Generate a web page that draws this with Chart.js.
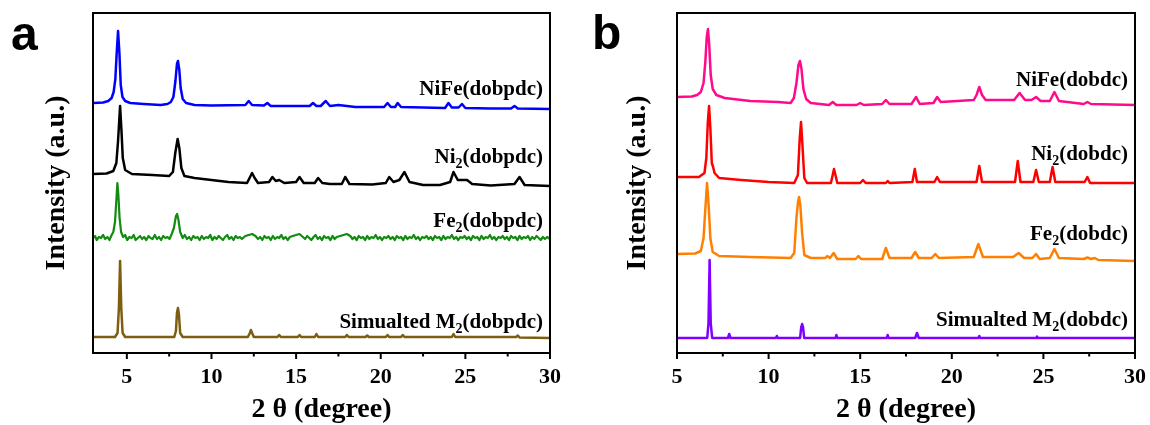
<!DOCTYPE html>
<html><head><meta charset="utf-8">
<script src="https://cdn.jsdelivr.net/npm/chart.js@4.4.1/dist/chart.umd.min.js"></script>
<style>
html,body{margin:0;padding:0;background:#fff;}
#wrap{position:relative;width:1150px;height:425px;overflow:hidden;background:#fff;}
canvas{position:absolute;top:0;}
.lbl{position:absolute;font-family:"Liberation Serif","Times New Roman",serif;font-weight:bold;font-size:21px;line-height:21px;white-space:nowrap;color:#000;}
.lbl sub{font-size:14px;line-height:0;vertical-align:-5px;}
.panel{position:absolute;font-family:"Liberation Sans",Arial,sans-serif;font-weight:bold;font-size:48px;line-height:48px;color:#000;}
</style></head>
<body><div id="wrap">
<canvas id="ca" width="575" height="425" style="left:0"></canvas>
<canvas id="cb" width="575" height="425" style="left:575px"></canvas>
<div class="panel" style="left:11px;top:10px">a</div>
<div class="panel" style="left:592px;top:9px">b</div>
<div class="lbl" style="right:607px;top:78px">NiFe(dobpdc)</div>
<div class="lbl" style="right:607px;top:146px">Ni<sub>2</sub>(dobpdc)</div>
<div class="lbl" style="right:607px;top:210px">Fe<sub>2</sub>(dobpdc)</div>
<div class="lbl" style="right:607px;top:311px">Simualted M<sub>2</sub>(dobpdc)</div>
<div class="lbl" style="right:22px;top:69px">NiFe(dobdc)</div>
<div class="lbl" style="right:22px;top:143px">Ni<sub>2</sub>(dobdc)</div>
<div class="lbl" style="right:22px;top:223px">Fe<sub>2</sub>(dobdc)</div>
<div class="lbl" style="right:22px;top:309px">Simualted M<sub>2</sub>(dobdc)</div>
</div>
<script>
// ---- Panel a: dobpdc series, [2θ, offset intensity] ----
const niFe_dobpdc = [[3.0,250],[3.6,250.5],[3.9,252],[4.1,255],[4.22,261],[4.32,274],[4.4,300],[4.48,322],[4.56,300],[4.64,268],[4.74,256],[4.9,252],[5.2,250],[6.0,249],[7.0,248],[7.4,249],[7.6,251],[7.75,256],[7.87,272],[7.96,289],[8.02,292],[8.1,283],[8.18,265],[8.3,254],[8.5,250],[9.0,248],[10.0,247.5],[12.0,248],[12.2,252],[12.4,248],[13.1,247.5],[13.3,250],[13.5,247],[14.5,247],[15.8,247],[16.0,250],[16.2,247],[16.45,247],[16.75,252],[17.0,247],[17.5,248],[18.5,246],[20.2,246],[20.4,250],[20.6,246],[20.85,246],[21.0,250],[21.2,246],[22.5,245.5],[23.8,245],[24.0,250],[24.2,245.5],[24.6,245.5],[24.8,249],[25.0,245],[26.5,244.5],[27.7,244.5],[27.9,247],[28.1,244.5],[30.0,244]];
const ni2_dobpdc = [[3.0,179],[3.8,179.5],[4.2,182],[4.38,190],[4.48,212],[4.6,247],[4.68,223],[4.76,195],[4.9,183],[5.3,179],[6.5,178],[7.5,177],[7.72,181],[7.86,200],[8.0,214],[8.1,205],[8.22,185],[8.4,177],[9.0,175],[10.0,173],[11.0,171],[12.1,170],[12.25,175],[12.4,180],[12.55,175],[12.75,170],[13.4,171],[13.6,176],[13.8,172],[14.0,173],[14.3,170],[15.0,171],[15.2,176],[15.45,170],[16.1,170],[16.3,175],[16.55,170],[17.0,169],[17.7,169],[17.9,176],[18.15,169],[19.5,168.5],[20.3,170],[20.5,176],[20.75,171],[21.1,173],[21.4,181],[21.7,171],[22.5,168],[23.5,168],[24.1,171],[24.3,181],[24.55,173],[25.1,173],[25.4,169],[26.5,167.5],[27.9,169],[28.2,176],[28.5,168],[30.0,167]];
const fe2_dobpdc = [[3.0,115],[3.12,117],[3.22,113],[3.35,116],[3.47,115],[3.6,118],[3.72,114],[3.85,116],[3.97,113],[4.1,118],[4.2,121],[4.3,131],[4.38,153],[4.44,170],[4.5,158],[4.57,135],[4.66,121],[4.78,116],[4.9,118],[5.02,113],[5.15,116],[5.28,115],[5.4,118],[5.52,113],[5.65,115],[5.78,117],[5.9,114],[6.02,116],[6.15,113],[6.28,117],[6.4,115],[6.52,114],[6.65,118],[6.78,114],[6.9,116],[7.02,113],[7.15,117],[7.28,115],[7.4,116],[7.52,114],[7.65,119],[7.78,125],[7.9,137],[7.97,139],[8.05,133],[8.15,121],[8.3,115],[8.42,118],[8.55,114],[8.68,116],[8.8,113],[8.93,117],[9.05,115],[9.18,116],[9.3,113],[9.43,117],[9.55,114],[9.68,116],[9.8,115],[9.93,118],[10.05,113],[10.18,116],[10.3,114],[10.43,117],[10.55,115],[10.68,113],[10.8,116],[10.93,118],[11.05,114],[11.18,116],[11.3,113],[11.43,117],[11.55,115],[11.68,116],[11.8,114],[12.0,117],[12.2,118],[12.4,119],[12.6,117],[12.75,114],[12.88,116],[13.0,113],[13.13,117],[13.25,115],[13.38,116],[13.5,113],[13.63,117],[13.75,114],[13.88,116],[14.0,115],[14.13,118],[14.25,114],[14.38,116],[14.5,113],[14.63,116],[14.8,117],[15.0,118],[15.2,119],[15.4,116],[15.53,114],[15.65,117],[15.78,115],[15.9,113],[16.03,116],[16.15,118],[16.28,114],[16.4,116],[16.53,113],[16.65,117],[16.78,115],[16.9,116],[17.03,113],[17.15,117],[17.28,114],[17.4,116],[17.6,117],[17.8,118],[18.0,119],[18.2,117],[18.33,114],[18.45,116],[18.58,113],[18.7,117],[18.83,115],[18.95,116],[19.08,113],[19.2,117],[19.33,114],[19.45,116],[19.58,115],[19.7,118],[19.83,114],[19.95,116],[20.08,113],[20.2,116],[20.33,115],[20.45,117],[20.58,114],[20.7,116],[20.83,113],[20.95,117],[21.08,115],[21.2,116],[21.33,113],[21.45,117],[21.58,114],[21.7,116],[21.83,115],[21.95,118],[22.08,114],[22.2,116],[22.33,113],[22.45,116],[22.58,115],[22.7,117],[22.83,114],[22.95,116],[23.08,113],[23.2,117],[23.33,115],[23.45,116],[23.58,113],[23.7,117],[23.83,114],[23.95,116],[24.08,115],[24.2,118],[24.33,114],[24.45,116],[24.58,113],[24.7,116],[24.83,115],[24.95,117],[25.08,114],[25.2,116],[25.33,113],[25.45,117],[25.58,115],[25.7,116],[25.83,113],[25.95,117],[26.08,114],[26.2,116],[26.33,115],[26.45,118],[26.58,114],[26.7,116],[26.83,113],[26.95,116],[27.08,115],[27.2,117],[27.33,114],[27.45,116],[27.58,113],[27.7,117],[27.83,115],[27.95,116],[28.08,113],[28.2,117],[28.33,114],[28.45,116],[28.58,115],[28.7,117],[28.83,113],[28.95,116],[29.08,114],[29.2,117],[29.33,115],[29.45,113],[29.58,116],[29.7,114],[29.83,116],[30.0,114]];
const sim_dobpdc = [[3.0,16],[4.3,16],[4.45,20],[4.53,45],[4.6,92],[4.67,45],[4.75,20],[4.9,16],[7.8,16],[7.9,22],[7.96,40],[8.02,45],[8.08,38],[8.15,20],[8.3,16],[12.15,16],[12.27,20],[12.33,23],[12.4,20],[12.5,16],[13.9,16],[14.0,18],[14.1,16],[15.1,16],[15.2,18],[15.3,16],[16.1,16],[16.2,19],[16.3,16],[17.9,16],[18.0,18],[18.1,16],[19.1,16],[19.2,17.5],[19.3,16],[20.3,16],[20.4,18],[20.5,16],[21.2,16],[21.3,18],[21.4,16],[24.2,16],[24.3,19],[24.4,16],[28.0,16],[28.1,17.5],[28.2,15.5],[30.0,15]];

// ---- Panel b: dobdc series ----
const niFe_dobdc = [[5.0,256],[5.8,256.5],[6.1,258],[6.3,261],[6.45,270],[6.55,292],[6.62,315],[6.69,324],[6.76,308],[6.84,278],[6.95,264],[7.15,258],[7.6,255],[9.0,252],[10.5,251],[11.2,250],[11.38,255],[11.52,270],[11.63,288],[11.71,292],[11.79,285],[11.9,264],[12.05,254],[12.3,250],[13.3,248],[13.5,251],[13.7,248],[14.8,248],[15.0,250],[15.2,248],[16.2,249],[16.4,253],[16.6,249],[17.8,249],[18.05,256],[18.25,249],[19.0,250],[19.2,256],[19.4,251],[21.2,253],[21.35,258],[21.5,266],[21.65,258],[21.85,253],[23.4,253],[23.7,260],[24.0,253],[24.35,253],[24.6,256],[24.85,252],[25.35,252],[25.6,261],[25.85,252],[27.2,249],[27.4,251],[27.6,249],[30.0,248]];
const ni2_dobdc = [[5.0,176],[6.2,176],[6.5,180],[6.6,195],[6.68,230],[6.75,247],[6.82,225],[6.9,190],[6.97,186],[7.05,180],[7.3,175],[8.5,173],[10.0,171],[11.4,170],[11.6,178],[11.7,215],[11.77,231],[11.84,210],[11.95,175],[12.1,170],[13.4,170],[13.5,178],[13.57,184],[13.65,178],[13.75,170],[15.0,170],[15.15,173],[15.3,170],[16.4,170],[16.5,172],[16.6,170],[17.85,171],[17.98,184],[18.1,171],[19.05,171],[19.2,176],[19.35,171],[21.35,171],[21.5,187],[21.65,171],[23.45,171],[23.6,192],[23.75,171],[24.45,171],[24.6,183],[24.75,171],[25.35,171],[25.5,186],[25.65,171],[27.25,171],[27.4,176],[27.55,170],[30.0,170]];
const fe2_dobdc = [[5.0,99],[6.0,99.5],[6.3,102],[6.45,115],[6.55,145],[6.64,170],[6.72,150],[6.82,115],[6.95,101],[7.3,97],[9.0,96],[11.2,95],[11.4,100],[11.52,135],[11.6,150],[11.66,156],[11.73,148],[11.83,120],[11.95,98],[12.3,95],[13.1,95],[13.2,97],[13.35,95],[13.55,100],[13.75,94],[14.75,94],[14.9,97],[15.05,94],[16.2,94],[16.4,105],[16.6,95],[17.8,95],[18.0,101],[18.2,95],[18.9,95],[19.1,99],[19.3,95],[21.2,96],[21.45,109],[21.7,96],[23.35,96],[23.65,100],[23.95,95],[24.4,95],[24.6,99],[24.8,94],[25.35,95],[25.6,104],[25.85,95],[27.2,94],[27.4,95.5],[27.6,94],[27.8,95],[28.0,93],[30.0,92]];
const sim_dobdc = [[5.0,15],[6.65,15],[6.72,30],[6.78,93],[6.84,30],[6.92,15],[7.78,15],[7.85,19],[7.92,15],[10.4,15],[10.45,17],[10.5,15],[11.72,15],[11.78,26],[11.83,29],[11.88,26],[11.94,15],[13.65,15],[13.7,18],[13.75,15],[16.45,15],[16.5,18],[16.55,15],[18.0,15],[18.1,20],[18.2,15],[21.45,15],[21.5,17],[21.55,15],[24.6,15],[24.65,16.5],[24.7,15],[30.0,15]];

const xTitle = '2 θ (degree)';
const yTitle = 'Intensity (a.u.)';
const FONT = '"Liberation Serif","Times New Roman",serif';

const framePlugin = {
  id: 'frame',
  afterDraw(chart) {
    const {ctx, chartArea: {left, right, top, bottom}, scales: {x}} = chart;
    ctx.save();
    ctx.strokeStyle = '#000';
    ctx.lineWidth = 2;
    ctx.strokeRect(left, top, right - left, bottom - top);
    const step = 2.5;
    for (let v = Math.ceil(x.min / step - 1e-9) * step; v <= x.max + 1e-9; v += step) {
      const px = x.getPixelForValue(v);
      const major = Math.abs(v / 5 - Math.round(v / 5)) < 1e-6;
      ctx.beginPath();
      ctx.moveTo(px, bottom);
      ctx.lineTo(px, bottom + (major ? 6 : 3.5));
      ctx.stroke();
    }
    ctx.restore();
  }
};

function makeChart(id, series, xmin, yTitlePad, axisWidth, rightPad) {
  return new Chart(document.getElementById(id), {
    type: 'line',
    data: {
      datasets: series.map(s => ({
        data: s.data.map(p => ({x: p[0], y: p[1]})),
        borderColor: s.color, borderWidth: s.w || 2.5, pointRadius: 0,
        tension: 0, fill: false, borderJoinStyle: 'round', borderCapStyle: 'round'
      }))
    },
    options: {
      responsive: false, animation: false, devicePixelRatio: 1,
      layout: {padding: {top: 13, right: rightPad, left: 0, bottom: 0}},
      plugins: {legend: {display: false}, tooltip: {enabled: false}},
      scales: {
        x: {
          type: 'linear', min: xmin, max: 30,
          grid: {display: false, drawTicks: false}, border: {display: false},
          ticks: {stepSize: 5, includeBounds: false, padding: 11, color: '#000', maxRotation: 0, autoSkip: false,
                  font: {family: FONT, size: 22, weight: 'bold'}},
          title: {display: true, text: xTitle, color: '#000', padding: {top: 0, bottom: 0},
                  font: {family: FONT, size: 28, weight: 'bold', lineHeight: 1.1}},
          afterFit(s) { s.height = 72; s.paddingLeft = 0; s.paddingRight = 0; }
        },
        y: {
          min: 0, max: 340,
          grid: {display: false, drawTicks: false}, border: {display: false},
          ticks: {display: false},
          title: {display: true, text: yTitle, color: '#000', padding: {top: yTitlePad, bottom: 0},
                  font: {family: FONT, size: 28, weight: 'bold', lineHeight: 1.2}},
          afterFit(s) { s.width = axisWidth; }
        }
      }
    },
    plugins: [framePlugin]
  });
}

makeChart('ca', [
  {data: sim_dobpdc, color: '#7D5E10'},
  {data: fe2_dobpdc, color: '#118C11', w: 2.2},
  {data: ni2_dobpdc, color: '#000000'},
  {data: niFe_dobpdc, color: '#0000FF'}
], 3, 40, 93, 25);

makeChart('cb', [
  {data: sim_dobdc, color: '#8000FF'},
  {data: fe2_dobdc, color: '#FF8000'},
  {data: ni2_dobdc, color: '#FF0000'},
  {data: niFe_dobdc, color: '#FF0A8C'}
], 5, 46, 102, 15);
</script>
</body></html>
